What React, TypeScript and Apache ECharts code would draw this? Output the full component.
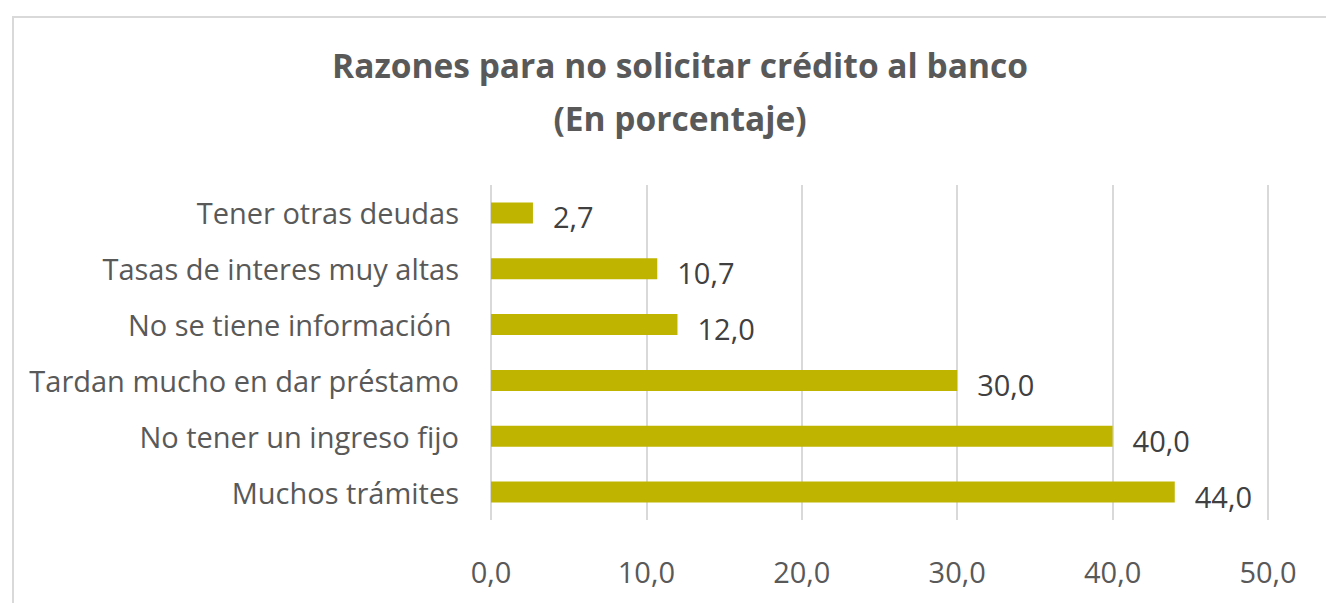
import React, { useEffect, useRef } from "react";
import * as echarts from "echarts";

const categories = [
  "Tener otras deudas",
  "Tasas de interes muy altas",
  "No se tiene información ",
  "Tardan mucho en dar préstamo",
  "No tener un ingreso fijo",
  "Muchos trámites",
];
const values = [2.7, 10.7, 12.0, 30.0, 40.0, 44.0];
const titleText = "Razones para no solicitar crédito al banco\n(En porcentaje)";

const fmt = (v: number) => v.toFixed(1).replace(".", ",");

export default function App() {
  const ref = useRef<HTMLDivElement>(null);
  useEffect(() => {
    if (!ref.current) return;
    const chart = echarts.init(ref.current, null, { renderer: "svg" });
    const font = "'Open Sans', sans-serif";
    chart.setOption({
      animation: false,
      backgroundColor: "#ffffff",
      title: {
        text: titleText,
        left: 675,
        top: 33,
        textAlign: "center",
        textStyle: {
          fontFamily: font,
          fontWeight: "bold",
          fontSize: 33.5,
          color: "#595959",
          lineHeight: 53,
        },
      },
      graphic: [
        {
          type: "rect",
          shape: { x: 13, y: 17, width: 1340, height: 620 },
          style: { fill: "none", stroke: "#d9d9d9", lineWidth: 2 },
          silent: true,
        },
      ],
      grid: { left: 491, right: 58, top: 185, bottom: 83, containLabel: false },
      xAxis: {
        type: "value",
        min: 0,
        max: 50,
        interval: 10,
        axisLine: { show: false },
        axisTick: { show: false },
        splitLine: { show: true, lineStyle: { color: "#d9d9d9", width: 2 } },
        axisLabel: {
          margin: 37,
          fontFamily: font,
          fontSize: 29,
          color: "#595959",
          formatter: (v: number) => fmt(v),
        },
      },
      yAxis: {
        type: "category",
        inverse: true,
        data: categories,
        axisLine: { show: false },
        axisTick: { show: false },
        axisLabel: {
          margin: 32,
          fontFamily: font,
          fontSize: 29,
          color: "#595959",
        },
      },
      series: [
        {
          type: "bar",
          data: values,
          barWidth: 21,
          itemStyle: { color: "#bfb500" },
          label: {
            show: true,
            position: "right",
            distance: 20,
            offset: [0, 4],
            fontFamily: font,
            fontSize: 29,
            color: "#404040",
            formatter: (p: any) => fmt(p.value),
          },
        },
      ],
    });
    return () => chart.dispose();
  }, []);
  return (
    <div
      ref={ref}
      style={{ position: "fixed", left: 0, top: 0, width: 1326, height: 603 }}
    />
  );
}
